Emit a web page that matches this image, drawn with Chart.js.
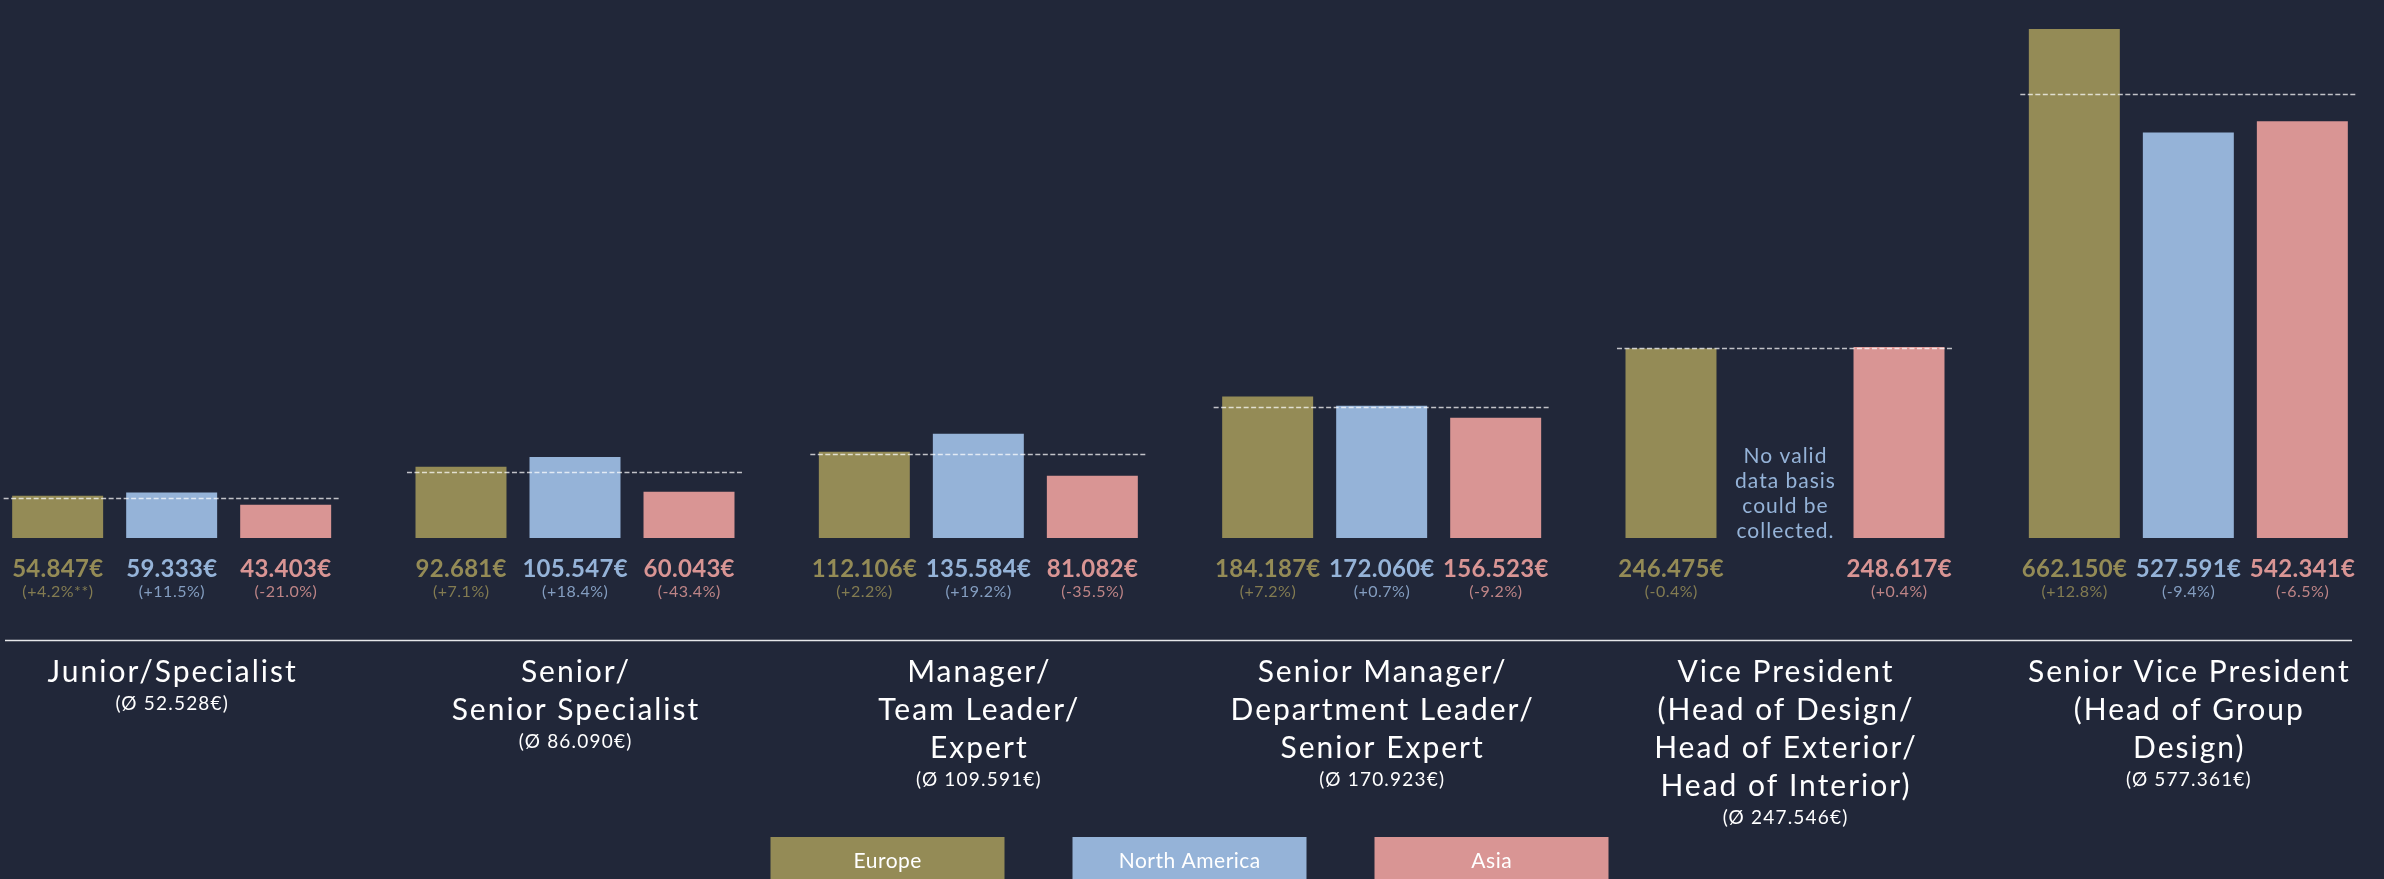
<!DOCTYPE html>
<html><head><meta charset="utf-8">
<script src="https://cdn.jsdelivr.net/npm/chart.js@4.4.1/dist/chart.umd.min.js"></script>
<style>
html,body{margin:0;padding:0;background:#212739;overflow:hidden;width:2384px;height:879px;}
#wrap{position:absolute;left:-30px;top:0;width:2420px;height:879px;}
</style></head><body><div id="wrap"><canvas id="c"></canvas></div>
<script>
const categories = [
  ["Junior/Specialist"],
  ["Senior/", "Senior Specialist"],
  ["Manager/", "Team Leader/", "Expert"],
  ["Senior Manager/", "Department Leader/", "Senior Expert"],
  ["Vice President", "(Head of Design/", "Head of Exterior/", "Head of Interior)"],
  ["Senior Vice President", "(Head of Group", "Design)"]
];
const averages = [52528, 86090, 109591, 170923, 247546, 577361];
const seriesNames = ["Europe", "North America", "Asia"];
const europe = [54847, 92681, 112106, 184187, 246475, 662150];
const northAmerica = [59333, 105547, 135584, 172060, null, 527591];
const asia = [43403, 60043, 81082, 156523, 248617, 542341];
const europeChange = ["(+4.2%**)", "(+7.1%)", "(+2.2%)", "(+7.2%)", "(-0.4%)", "(+12.8%)"];
const northAmericaChange = ["(+11.5%)", "(+18.4%)", "(+19.2%)", "(+0.7%)", null, "(-9.4%)"];
const asiaChange = ["(-21.0%)", "(-43.4%)", "(-35.5%)", "(-9.2%)", "(+0.4%)", "(-6.5%)"];
const missingNote = ["No valid", "data basis", "could be", "collected."];

const COLORS = ["#948b56", "#95b3d8", "#d99594"];
const SHIFT = 30;
const CAT_PCT = 0.848, BAR_PCT = 0.798;
const FONT = "Lato";
function fmt(n){ return String(n).replace(/\B(?=(\d{3})+(?!\d))/g, "."); }
function text(ctx, t, x, y, spacing){
  ctx.letterSpacing = spacing + 'px';
  ctx.fillText(t, x + spacing / 2, y);
  ctx.letterSpacing = '0px';
}

const overlay = {
  id: 'overlay',
  afterDatasetsDraw(chart){
    const ctx = chart.ctx, xs = chart.scales.x, ys = chart.scales.y;
    const catW = xs.width / categories.length;
    const base = ys.getPixelForValue(0);
    ctx.save();
    // average dashed lines
    ctx.setLineDash([5, 2.5]);
    ctx.lineWidth = 1.5;
    ctx.strokeStyle = 'rgba(255,255,255,0.72)';
    averages.forEach((a, i) => {
      const cx = xs.getPixelForValue(i);
      const yy = Math.round(ys.getPixelForValue(a)) + 0.5;
      const hw = catW * 0.4166;
      ctx.beginPath(); ctx.moveTo(cx - hw, yy); ctx.lineTo(cx + hw, yy); ctx.stroke();
    });
    ctx.setLineDash([]);
    // value labels
    const changes = [europeChange, northAmericaChange, asiaChange];
    ctx.textAlign = 'center';
    ctx.textBaseline = 'alphabetic';
    chart.data.datasets.forEach((ds, di) => {
      ds.data.forEach((v, i) => {
        const bx = xs.getPixelForValue(i) + (di - 1) * (catW * CAT_PCT / 3);
        ctx.fillStyle = COLORS[di];
        if (v == null) {
          ctx.font = '21px ' + FONT;
          missingNote.forEach((t, k) => text(ctx, t, bx, base - (missingNote.length - 1 - k) * 25, 1));
          return;
        }
        ctx.globalAlpha = 1;
        ctx.font = 'bold 24px ' + FONT;
        text(ctx, fmt(v) + "€", bx, base + 39, 0.3);
        ctx.globalAlpha = 0.85;
        ctx.font = '16px ' + FONT;
        text(ctx, changes[di][i], bx, base + 59, 0.5);
        ctx.globalAlpha = 1;
      });
    });
    // separator line
    ctx.strokeStyle = '#e6e7ea';
    ctx.lineWidth = 1.5;
    ctx.beginPath(); ctx.moveTo(5 + SHIFT, base + 102.5); ctx.lineTo(2352 + SHIFT, base + 102.5); ctx.stroke();
    // category labels
    ctx.fillStyle = '#ffffff';
    categories.forEach((lines, i) => {
      const cx = xs.getPixelForValue(i);
      let yy = base + 144;
      ctx.font = '30px ' + FONT;
      lines.forEach((t, k) => { text(ctx, t, cx, yy + k * 38, 2); });
      ctx.font = '19px ' + FONT;
      text(ctx, "(Ø " + fmt(averages[i]) + "€)", cx, yy + (lines.length - 1) * 38 + 28, 1.2);
    });
    // legend
    const bw = 234, gap = 68, bh = 44;
    const total = bw * 3 + gap * 2;
    const left = 1189.5 + SHIFT - total / 2;
    seriesNames.forEach((name, k) => {
      const lx = left + k * (bw + gap);
      ctx.fillStyle = COLORS[k];
      ctx.fillRect(lx, 837, bw, bh);
      ctx.fillStyle = '#ffffff';
      ctx.font = '21px ' + FONT;
      ctx.textBaseline = 'middle';
      text(ctx, name, lx + bw / 2, 861, 0.5);
      ctx.textBaseline = 'alphabetic';
    });
    ctx.restore();
  }
};

new Chart(document.getElementById('c'), {
  type: 'bar',
  data: {
    labels: categories.map(c => c.join(' ')),
    datasets: [
      { label: seriesNames[0], data: europe, backgroundColor: COLORS[0] },
      { label: seriesNames[1], data: northAmerica, backgroundColor: COLORS[1] },
      { label: seriesNames[2], data: asia, backgroundColor: COLORS[2] }
    ].map(d => Object.assign(d, { categoryPercentage: CAT_PCT, barPercentage: BAR_PCT, borderWidth: 0 }))
  },
  options: {
    responsive: true,
    maintainAspectRatio: false,
    animation: false,
    layout: { padding: { top: 0, bottom: 341, left: 0, right: 0 } },
    scales: {
      x: { display: false },
      y: { display: false, min: 0, max: 700000 }
    },
    plugins: { legend: { display: false }, tooltip: { enabled: false } }
  },
  plugins: [overlay]
});
</script>
</body></html>
